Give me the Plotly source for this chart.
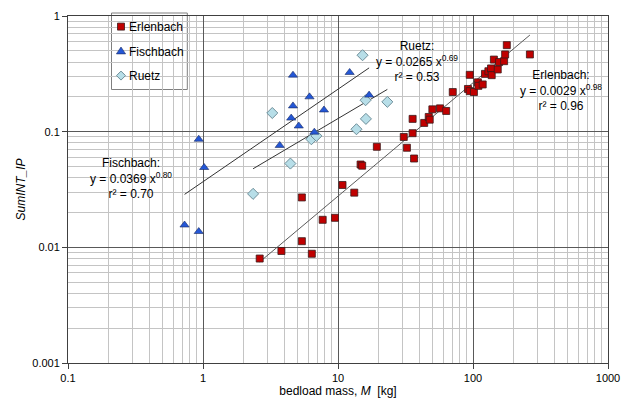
import plotly.graph_objects as go

# ---------------- data ----------------
erl_x = [2.63, 3.81, 5.4, 5.4, 6.4, 7.7, 9.5, 10.8, 13.2, 14.7, 15.1, 19.4,
         30.7, 32.4, 35.7, 35.7, 36.6, 43.5, 47.0, 47.8, 50.0, 57.0, 63.3,
         70.8, 91.8, 94.6, 94.6, 101.6, 108.7, 109.6, 118.0, 122.7, 130.0,
         136.0, 137.6, 142.8, 152.5, 156.0, 170.0, 173.0, 178.0, 264.0]
erl_y = [0.0080, 0.0093, 0.027, 0.0113, 0.0088, 0.0173, 0.018, 0.0346,
         0.0297, 0.052, 0.0508, 0.074, 0.090, 0.0726, 0.097, 0.129, 0.0586,
         0.119, 0.134, 0.127, 0.156, 0.159, 0.151, 0.22, 0.234, 0.31, 0.224,
         0.22, 0.267, 0.249, 0.256, 0.316, 0.333, 0.352, 0.308, 0.42, 0.345,
         0.40, 0.407, 0.465, 0.56, 0.465]

fis_x = [0.73, 0.93, 0.93, 1.02, 3.7, 4.5, 4.64, 4.64, 5.12, 6.15, 6.68,
         7.87, 12.2, 17.0]
fis_y = [0.0156, 0.0137, 0.086, 0.049, 0.076, 0.131, 0.167, 0.308, 0.112,
         0.20, 0.099, 0.154, 0.325, 0.207]

rue_x = [2.35, 3.26, 4.44, 6.35, 6.92, 13.7, 15.2, 16.0, 16.1, 23.2]
rue_y = [0.029, 0.145, 0.053, 0.086, 0.092, 0.105, 0.458, 0.187, 0.129, 0.181]

# power-law fits y = a * x^b shown on the chart, with r²
erl_fit = (0.0029, 0.98, 0.96)
fis_fit = (0.0369, 0.80, 0.70)
rue_fit = (0.0265, 0.69, 0.53)

series_names = ["Erlenbach", "Fischbach", "Ruetz"]

x_tickvals = [0.1, 1, 10, 100, 1000]
x_ticktext = ["0.1", "1", "10", "100", "1000"]
y_tickvals = [0.001, 0.01, 0.1, 1]
y_ticktext = ["0.001", "0.01", "0.1", "1"]

# ---------------- styles ----------------
FONT = "Liberation Sans, Arial, sans-serif"
styles = {
    "Erlenbach": dict(symbol="square", size=7, color="#C00000",
                      line=dict(color="#3a1a1a", width=0.8)),
    "Fischbach": dict(symbol="triangle-up", size=8, color="#2457D6",
                      line=dict(color="#1a2a60", width=0.6)),
    "Ruetz": dict(symbol="diamond", size=8.5, color="#B7DEE8",
                  line=dict(color="#6E8E99", width=1)),
}

fig = go.Figure()


def fit_line(xs, fit):
    a, b = fit[0], fit[1]
    lo, hi = min(xs), max(xs)
    return [lo, hi], [a * lo ** b, a * hi ** b]


# trend lines
for xs, fit, col in [(erl_x, erl_fit, "#5a5a5a"),
                     (fis_x, fis_fit, "#333333"),
                     (rue_x, rue_fit, "#333333")]:
    lx, ly = fit_line(xs, fit)
    fig.add_trace(go.Scatter(x=lx, y=ly, mode="lines",
                             line=dict(color=col, width=1),
                             showlegend=False, hoverinfo="skip"))

# data points
for name, xs, ys in [("Ruetz", rue_x, rue_y),
                     ("Fischbach", fis_x, fis_y),
                     ("Erlenbach", erl_x, erl_y)]:
    fig.add_trace(go.Scatter(x=xs, y=ys, mode="markers", name=name,
                             marker=styles[name], showlegend=False))


# ---------------- helpers: pixel -> paper ----------------
def px2x(px):
    return (px - 68.0) / 540.0


def px2y(py):
    return (363.0 - py) / 347.0


shapes = [
    # legend frame
    dict(type="rect", xref="paper", yref="paper", layer="between",
         x0=px2x(111.5), x1=px2x(187.3), y0=px2y(89.5), y1=px2y(13),
         fillcolor="white", line=dict(color="#7f7f7f", width=1)),
    # white backgrounds of the fit labels
    dict(type="rect", xref="paper", yref="paper", layer="between",
         x0=px2x(89), x1=px2x(174), y0=px2y(200), y1=px2y(153),
         fillcolor="white", line=dict(width=0)),
    dict(type="rect", xref="paper", yref="paper", layer="between",
         x0=px2x(374), x1=px2x(460), y0=px2y(80), y1=px2y(40),
         fillcolor="white", line=dict(width=0)),
    dict(type="rect", xref="paper", yref="paper", layer="between",
         x0=px2x(518), x1=px2x(605), y0=px2y(110), y1=px2y(68),
         fillcolor="white", line=dict(width=0)),
]

# legend symbols (pixel-sized shapes anchored in paper space)
legend_rows = [26.6, 51.6, 75.6]
sym_paths = {
    "Erlenbach": "M-3.5,-3.5 L3.5,-3.5 L3.5,3.5 L-3.5,3.5 Z",
    "Fischbach": "M-4.6,-2.3 L4.6,-2.3 L0,4.6 Z",
    "Ruetz": "M-4.5,0 L0,4.5 L4.5,0 L0,-4.5 Z",
}
for name, row in zip(series_names, legend_rows):
    st = styles[name]
    shapes.append(dict(type="path", xref="paper", yref="paper", layer="above",
                       xsizemode="pixel", ysizemode="pixel",
                       xanchor=px2x(121), yanchor=px2y(row),
                       path=sym_paths[name], fillcolor=st["color"],
                       line=dict(color=st["line"]["color"],
                                 width=st["line"]["width"])))
    fig.add_annotation(x=px2x(127.3), y=px2y(row), xref="paper", yref="paper",
                       text=name, showarrow=False, xanchor="left",
                       yanchor="middle",
                       font=dict(family=FONT, size=12, color="#000000"))


# ---------------- fit labels ----------------
def fit_text(name, fit):
    a, b, r2 = fit
    return "%s:<br>y = %.4f x<sup>%.2f</sup><br>r² = %.2f" % (name, a, b, r2)


labels = [
    ("Fischbach", fis_fit, 131, 178.6),
    ("Ruetz", rue_fit, 416.5, 61.0),
    ("Erlenbach", erl_fit, 561, 90.3),
]
for name, fit, cx, cy in labels:
    fig.add_annotation(x=px2x(cx), y=px2y(cy), xref="paper", yref="paper",
                       text=fit_text(name, fit), showarrow=False,
                       xanchor="center", yanchor="middle", align="center",
                       font=dict(family=FONT, size=12, color="#000000"))

# ---------------- layout ----------------
axis_common = dict(
    type="log", showgrid=True, gridcolor="#595959", gridwidth=1,
    showline=True, linecolor="#404040", linewidth=1, mirror=True,
    ticks="outside", ticklen=5, tickcolor="#404040", zeroline=False,
    automargin=False,
    tickfont=dict(family=FONT, size=11, color="#000000"),
)

x_minor = [m * d for d in x_tickvals[:-1] for m in range(2, 10)]
y_minor = [m * d for d in y_tickvals[:-1] for m in range(2, 10)]

fig.update_layout(
    width=635, height=399,
    margin=dict(l=68, r=27, t=16, b=36, autoexpand=False),
    paper_bgcolor="white", plot_bgcolor="white",
    showlegend=False,
    shapes=shapes,
    xaxis=dict(axis_common, range=[-1, 3], tickmode="array",
               tickvals=x_tickvals, ticktext=x_ticktext,
               minor=dict(tickmode="array", tickvals=x_minor, showgrid=True,
                          gridcolor="#c4c4c4", gridwidth=1, ticks=""),
               title=dict(text="bedload mass, <i>M</i>\u00a0 [kg]", standoff=3,
                          font=dict(family=FONT, size=12, color="#000000"))),
    yaxis=dict(axis_common, range=[-3, 0], tickmode="array",
               tickvals=y_tickvals, ticktext=y_ticktext,
               minor=dict(tickmode="array", tickvals=y_minor, showgrid=True,
                          gridcolor="#c4c4c4", gridwidth=1, ticks=""),
               title=dict(text="<i>SumINT_IP</i>", standoff=4,
                          font=dict(family=FONT, size=12, color="#000000"))),
)

fig.write_html(
    "out.html",
    config={"displayModeBar": False},
    post_script="document.body.style.margin='0';document.body.style.padding='0';",
)
